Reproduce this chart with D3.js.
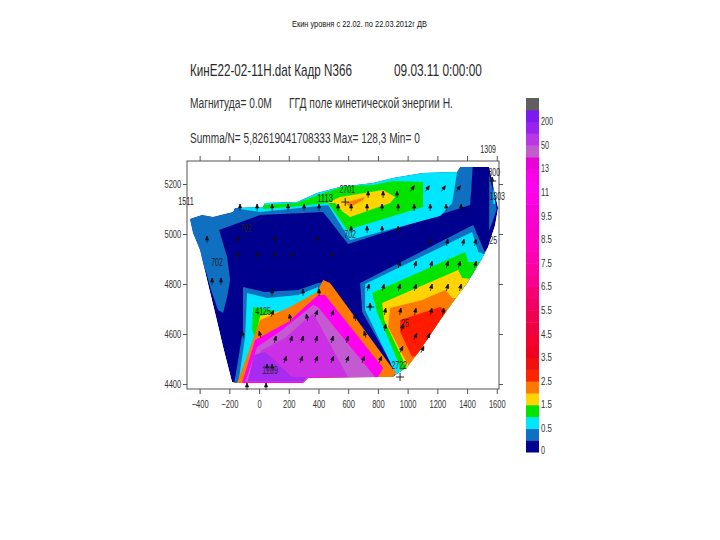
<!DOCTYPE html>
<html><head><meta charset="utf-8">
<script src="https://cdn.jsdelivr.net/npm/d3@7/dist/d3.min.js"></script>
<style>html,body{margin:0;background:#fff}svg{display:block}text{font-family:"Liberation Sans",Arial,sans-serif}</style>
</head><body><svg id="c" width="720" height="540"></svg>
<script>
// ---- axis ticks
const xTicks=[-400,-200,0,200,400,600,800,1000,1200,1400,1600];
const yTicks=[4400,4600,4800,5000,5200];
// ---- domain outline of the field
const outline=[[-465,5060],[-384,5076],[-310,5068],[-175,5088],[-162,5104],[27,5108],[40,5124],[256,5128],[391,5164],[545,5188],[768,5204],[902,5224],[1104,5244],[1333,5248],[1354,5268],[1549,5268],[1609,5104],[1589,5036],[1542,4948],[1502,4904],[1401,4804],[1300,4724],[1219,4656],[1084,4536],[997,4468],[936,4444],[902,4428],[330,4424],[296,4404],[-155,4404],[-182,4408],[-242,4548],[-296,4684],[-350,4816],[-397,4936],[-444,5004]];
// ---- contour bands, painted in order
const bandNorthBlue=[[-532,5036],[-465,5116],[1441,5296],[1421,5116],[599,4960],[431,5088],[7,5076],[-269,5016],[-215,4908],[-195,4816],[-215,4748],[-242,4684],[-276,4696],[-323,4776],[-357,4848]];
const bandEastBlue=[[1549,5240],[1600,5100],[1549,5012],[1549,5130]];
const bandEastCyan=[[1576,5200],[1590,5120],[1576,5120]];
const bandNorthCyan=[[-162,5296],[-155,5116],[-128,5100],[7,5088],[276,5104],[465,5116],[613,4976],[1219,5072],[1300,5124],[1333,5248],[1340,5296]];
const bandNorthGreen=[[27,5116],[27,5100],[276,5112],[465,5124],[593,5016],[1104,5108],[1104,5208],[902,5212],[768,5196],[579,5192],[397,5156],[256,5124]];
const bandNorthYellow=[[458,5124],[545,5148],[835,5176],[916,5148],[882,5124],[613,5068],[566,5088],[512,5124]];
const bandNorthOrange=[[579,5124],[714,5148],[700,5136],[613,5108]];
const bandSouthBlue=[[680,4804],[694,4688],[896,4476],[929,4436],[1219,4436],[1623,4896],[1522,4924],[1441,5036]];
const bandSouthCyan=[[714,4800],[714,4696],[882,4488],[916,4436],[1219,4436],[1623,4896],[1475,4928],[1434,5008]];
const bandSouthGreen=[[761,4764],[795,4684],[936,4488],[963,4436],[1286,4436],[1623,4888],[1407,4888],[1387,4928]];
const bandSouthYellow=[[828,4724],[842,4656],[963,4504],[1003,4448],[1286,4448],[1488,4816],[1367,4824],[1340,4856]];
const bandSouthOrange=[[882,4704],[869,4628],[970,4512],[1017,4464],[1421,4736],[1300,4744],[1253,4776],[1098,4736]];
const bandSouthRed=[[950,4656],[1219,4708],[1259,4696],[1185,4536],[1030,4508],[950,4608]];
const bandPeakBlue=[[-108,4788],[40,4768],[263,4776],[397,4804],[444,4808],[276,4404],[-168,4400],[-108,4616]];
const bandPeakCyan=[[-81,4764],[54,4744],[263,4756],[397,4788],[276,4404],[-141,4400],[-94,4588]];
const bandPeakGreen=[[-40,4708],[108,4692],[20,4648],[-20,4576],[-47,4616]];
const bandPeakYellow=[[-20,4596],[7,4672],[141,4692],[20,4644]];
const bandPeakOrange=[[-148,4404],[7,4656],[195,4704],[391,4768],[431,4816],[478,4804],[896,4464],[923,4448],[902,4428],[330,4424],[296,4404]];
const bandPeakMagenta=[[-114,4404],[-27,4576],[195,4648],[397,4756],[444,4756],[835,4464],[801,4428],[330,4424],[296,4404]];
const bandPeakOrchid=[[-94,4408],[-13,4548],[155,4616],[364,4716],[397,4708],[781,4428],[330,4428],[296,4408]];
const bandPeakPurple=[[-81,4408],[-27,4496],[20,4536],[175,4584],[364,4684],[599,4428],[330,4428],[296,4408]];
const bandPeakViolet=[[-74,4412],[-34,4516],[40,4528],[222,4428],[323,4428],[296,4412]];
// ---- colours of the bands
const cNavy="#00008e",cBlue="#0f6fc0",cCyan="#00e6ff",cGreen="#00e400",cYellow="#ffd400",cOrange="#ff7a00",cRed="#ff1a00",cMagenta="#ff00f0",cOrchid="#c45ad2",cPurple="#cc30e4",cViolet="#a82cf0";
const bandList=[
 [bandNorthBlue,cBlue],[bandEastBlue,cBlue],[bandEastCyan,cCyan],[bandNorthCyan,cCyan],[bandNorthGreen,cGreen],[bandNorthYellow,cYellow],[bandNorthOrange,cOrange],
 [bandSouthBlue,cBlue],[bandSouthCyan,cCyan],[bandSouthGreen,cGreen],[bandSouthYellow,cYellow],[bandSouthOrange,cOrange],[bandSouthRed,cRed],
 [bandPeakBlue,cBlue],[bandPeakCyan,cCyan],[bandPeakGreen,cGreen],[bandPeakYellow,cYellow],[bandPeakOrange,cOrange],[bandPeakMagenta,cMagenta],[bandPeakOrchid,cOrchid],[bandPeakPurple,cPurple],[bandPeakViolet,cViolet]];
// ---- velocity arrows: row northing, eastings, lean in degrees
const arrowRows=[
 [5212,[1569],0],[5180,[1030,1131,1239,1340],35],[5156,[734,835,929],0],
 [5104,[-128,-13,88,195,303,404,532,620,727,828,936,1044,1152,1259,1360],0],
 [5016,[620,727,828,936],0],[4976,[-350,-142,108,391],0],[4964,[1152,1266,1374,1455],10],
 [4912,[-142,-7,108,222,492],0],[4876,[943,1051,1158,1266,1347,1455],15],[4808,[-316,-256],0],
 [4784,[734,835,943,1051,1158,1266,1354],15],[4764,[88,296,404],0],[4708,[747],0],
 [4688,[848,950,1051,1158,1239],10],[4680,[88,384,492],20],[4664,[209,323,646],-10],
 [4624,[848,963],10],[4596,[-108,7,714],-15],[4588,[1051,1138],25],[4576,[108,215,290,384,492,593],15],
 [4536,[956,1098],25],[4496,[175,283,384,492,593,700,815],20],[4464,[54,88],0],[4388,[-81,47],0]];
// ---- survey crosses
const crossX=[580,949,747,1569];
const crossY=[5128,4428,4708,5212];
// ---- station labels
const stationNames=["1309","300","1303","25","1511","2701","1113","702","702","702","4125","1209","25","2722"];
const stationX=[1542,1583,1603,1576,-492,593,444,613,-88,-283,27,74,983,943];
const stationY=[5324,5232,5136,4960,5116,5164,5128,4984,5008,4872,4676,4440,4628,4460];
// ---- colour scale
const scaleColors=["#00008e","#0f6fc0","#00e6ff","#00e400","#ffd400","#ff7a00","#ff2400","#f01010","#f00020","#f40030","#f00040","#f00050","#f00060","#f40070","#fa0090","#ff00a0","#ff00b0","#ff00c0","#f800c8","#f800d0","#f800d8","#ff00e8","#ff00f0","#f800e8","#e800d8","#c25ccc","#b838e4","#9a22f0","#7a1cf0","#606060"];
const scaleLabels=["0","0.5","1.5","2.5","3.5","4.5","5.5","6.5","7.5","8.5","9.5","11","13","50","200"];
// ---- headings
const pageTitle="Екин уровня с 22.02.  по 22.03.2012г ДВ";
const headLeft="КинЕ22-02-11Н.dat Кадр N366", headRight="09.03.11 0:00:00";
const subLeft="Магнитуда= 0.0М", subRight="ГГД поле кинетической энергии Н.";
const statsLine="Summa/N= 5,82619041708333 Max= 128,3 Min= 0";

const svg=d3.select("#c");
const x=d3.scaleLinear().domain([-485,1615]).range([187,499]);
const y=d3.scaleLinear().domain([4380,5292]).range([389,161]);
const line=d3.line().x(d=>x(d[0])).y(d=>y(d[1])).curve(d3.curveLinearClosed);

// text drawn at its natural size, then squeezed horizontally to the wanted width
function txt(s,px,py,size,len,fill,anchor){
  const t=svg.append("text").attr("font-size",size).attr("fill",fill||"#2a2a2a").attr("text-anchor",anchor||"start").text(s);
  const k=len?len/t.node().getComputedTextLength():1;
  t.attr("transform",`translate(${px},${py}) scale(${k},1)`);
  return t;
}
txt(pageTitle,292,27,8.5,135,"#111");
txt(headLeft,190,76,17,162);
txt(headRight,394,76,17,88);
txt(subLeft,190,108,14.5,82,"#333");
txt(subRight,289,108,14.5,164,"#333");
txt(statsLine,190,143,14.5,230,"#333");

svg.append("clipPath").attr("id","field").append("path").attr("d",line(outline));
const field=svg.append("g").attr("clip-path","url(#field)");
field.append("path").attr("d",line(outline)).attr("fill",cNavy);
field.selectAll("path.band").data(bandList).join("path").attr("class","band")
  .attr("d",d=>line(d[0])).attr("fill",d=>d[1]);

// frame and axes
svg.append("rect").attr("x",187).attr("y",161).attr("width",312).attr("height",228).attr("fill","none").attr("stroke","#555");
function styleAxis(g){g.select(".domain").remove();g.selectAll("line").attr("stroke","#555");
  g.selectAll("text").attr("font-size",10.5).attr("fill","#333").attr("font-family","Liberation Sans")
   .attr("transform","scale(.72,1)");}
svg.append("g").attr("transform","translate(0,389)").call(d3.axisBottom(x).tickValues(xTicks).tickSize(5).tickPadding(7).tickFormat(d3.format("d"))).call(styleAxis);
svg.append("g").attr("transform","translate(0,161)").call(d3.axisTop(x).tickValues(xTicks).tickSize(5).tickFormat("")).call(styleAxis);
svg.append("g").attr("transform","translate(187,0)").call(d3.axisLeft(y).tickValues(yTicks).tickSize(4).tickPadding(4).tickFormat(d3.format("d"))).call(styleAxis);
svg.append("g").attr("transform","translate(499,0)").call(d3.axisRight(y).tickValues(yTicks).tickSize(4).tickFormat("")).call(styleAxis);

// arrows
const arrows=arrowRows.flatMap(r=>r[1].map(e=>({e,n:r[0],a:r[2]})));
svg.append("g").selectAll("path").data(arrows).join("path")
  .attr("transform",d=>`translate(${x(d.e)},${y(d.n)}) rotate(${d.a})`)
  .attr("d","M0,3V-4M-1.6,0L0,-4L1.6,0Z")
  .attr("fill","#14101e").attr("stroke","#14101e").attr("stroke-width",.7);
// crosses
svg.append("g").selectAll("path").data(crossX).join("path")
  .attr("transform",(d,i)=>`translate(${x(d)},${y(crossY[i])})`)
  .attr("d","M-4,0H4M0,-4V4").attr("stroke","#222").attr("fill","none");
// station labels
stationNames.forEach((s,i)=>txt(s,x(stationX[i]),y(stationY[i]),10.5,s.length*3.9,"#222","middle"));

// colour bar
const bar=d3.scaleLinear().domain([0,30]).range([452,98]);
svg.append("g").selectAll("rect").data(scaleColors).join("rect")
  .attr("x",526).attr("width",13).attr("y",(d,i)=>bar(i+1)).attr("height",(d,i)=>bar(i)-bar(i+1)+.5).attr("fill",d=>d);
scaleLabels.forEach((s,i)=>txt(s,541,bar(i*2)+(i?3.5:2),10.5,s.length===3?(s.includes(".")?11:12):s.length*4,"#333"));
</script></body></html>
